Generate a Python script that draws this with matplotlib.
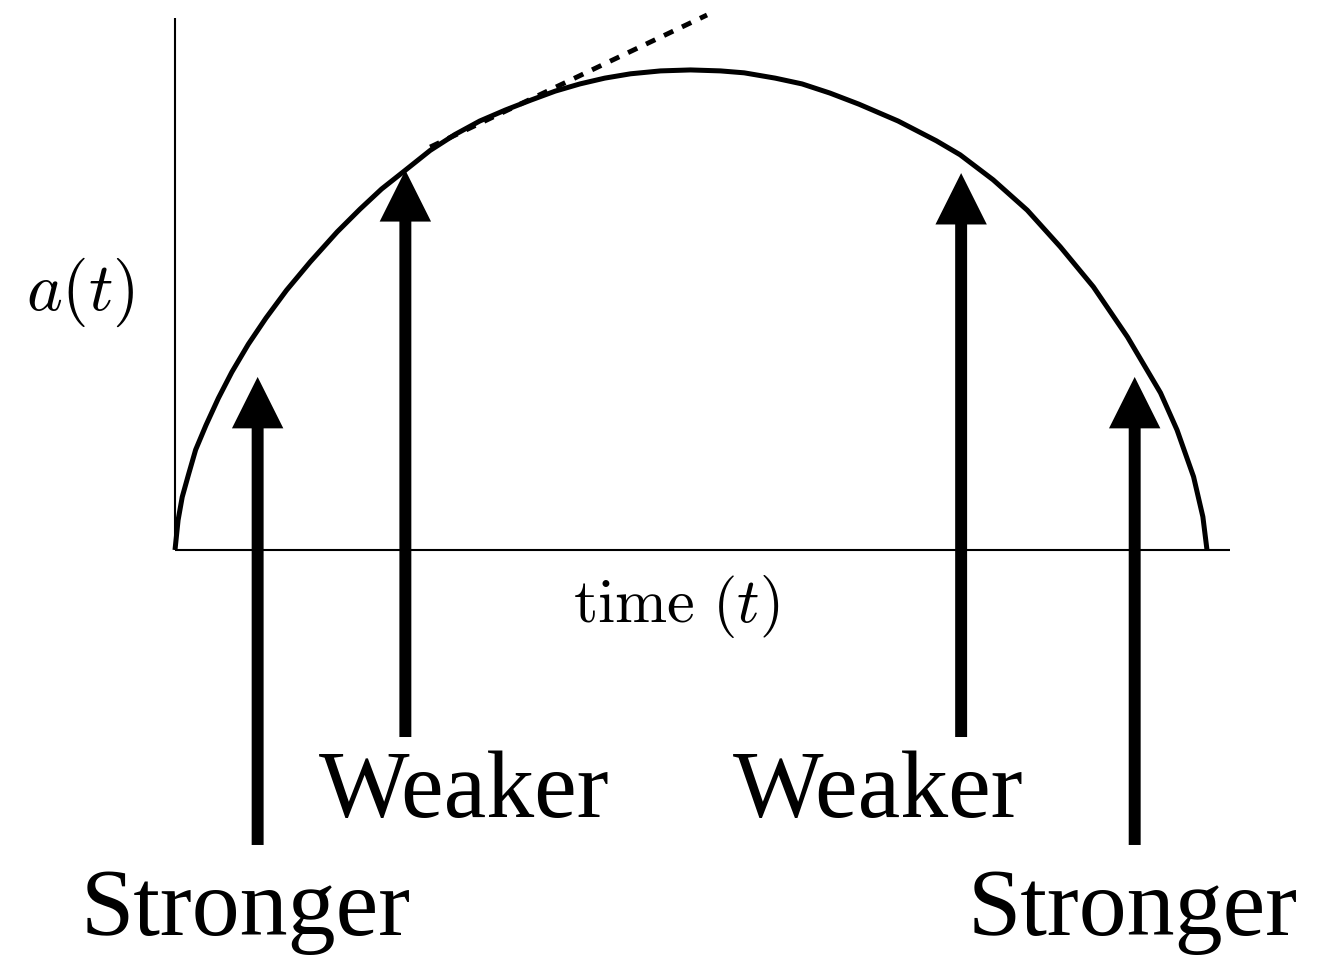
import numpy as np
import matplotlib.pyplot as plt

plt.rcParams['mathtext.fontset'] = 'cm'

# scale factor a(t) of a closed universe (arbitrary units)
t_curve = [0.00, 0.03, 0.07, 0.13, 0.20, 0.30, 0.42, 0.55, 0.71, 0.88, 1.08,
           1.31, 1.57, 1.79, 2.00, 2.23, 2.47, 2.71, 2.95, 3.20, 3.44, 3.68,
           3.92, 4.16, 4.41, 4.70, 4.99, 5.28, 5.51, 5.81, 6.07, 6.34, 6.62,
           7.00, 7.37, 7.60, 7.92, 8.25, 8.57, 8.89, 9.22, 9.54, 9.70, 9.86,
           9.95, 9.99]
a_curve = [0.00, 0.62, 1.10, 1.56, 2.08, 2.59, 3.15, 3.69, 4.27, 4.81, 5.39,
           5.98, 6.60, 7.07, 7.49, 7.88, 8.29, 8.62, 8.90, 9.13, 9.33, 9.52,
           9.67, 9.79, 9.88, 9.94, 9.96, 9.94, 9.90, 9.79, 9.67, 9.48, 9.25,
           8.90, 8.49, 8.20, 7.68, 7.05, 6.29, 5.46, 4.42, 3.26, 2.49, 1.52,
           0.69, 0.00]

# dashed tangent line
t_tan = [2.47, 5.15]
a_tan = [8.36, 11.10]

# arrows: x position, tip height, tail height, label
arrow_t = [0.80, 2.23, 7.61, 9.29]
arrow_tip = [3.59, 7.88, 7.82, 3.59]
arrow_tail = [-6.12, -3.88, -3.88, -6.12]
labels = ["Stronger", "Weaker", "Weaker", "Stronger"]
label_t = [0.68, 2.80, 6.81, 9.27]
label_a = [-7.99, -5.54, -5.54, -7.99]

fig = plt.figure(figsize=(13.29, 9.58), dpi=100)
ax = fig.add_axes([0, 0, 1, 1])
ax.set_xlim(-1.694, 11.171)
ax.set_ylim(-8.465, 11.411)
ax.axis('off')

# hand-drawn axes
ax.plot([0, 0], [0, 11.04], color='black', lw=1.5, solid_capstyle='butt')
ax.plot([0, 10.21], [0, 0], color='black', lw=1.5, solid_capstyle='butt')

ax.plot(t_curve, a_curve, color='black', lw=3.6, solid_capstyle='butt',
        solid_joinstyle='round')
ax.plot(t_tan, a_tan, color='black', lw=3.5, linestyle=(0, (2.1, 2.0)))

for x, tip, tail in zip(arrow_t, arrow_tip, arrow_tail):
    ax.annotate('', xy=(x, tip), xytext=(x, tail),
                arrowprops=dict(arrowstyle='simple,head_length=3.7,head_width=3.7,tail_width=0.86',
                                mutation_scale=10, color='black', lw=0,
                                shrinkA=0, shrinkB=0))

for x, y, s in zip(label_t, label_a, labels):
    ax.text(x, y, s, ha='center', va='baseline', fontsize=69,
            family='Liberation Serif')

ax.text(-0.92, 5.35, r'$a(t)$', ha='center', va='center', fontsize=49)
ax.text(4.85, -1.18, r'$\mathrm{time}\ (t)$', ha='center', va='center', fontsize=45)

fig.savefig('out.png', dpi=100)
